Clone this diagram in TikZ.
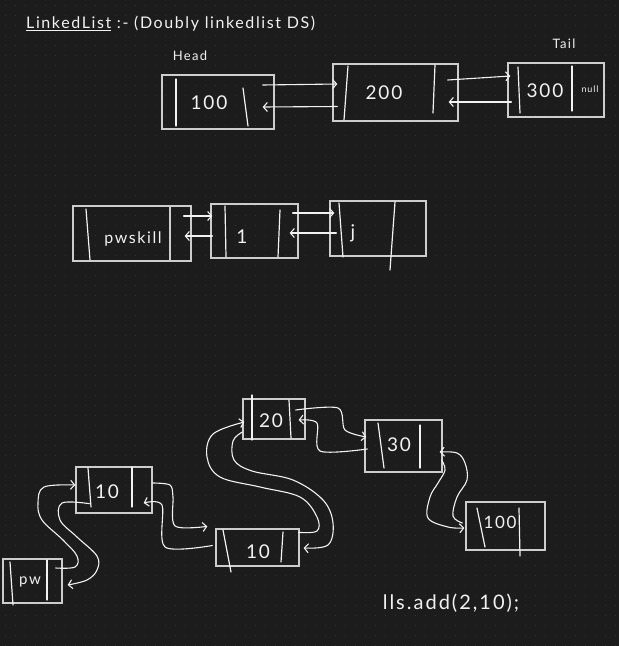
\documentclass[tikz,border=0pt]{standalone}
\usepackage{fontspec}
\setmainfont{Lato}
\newfontfamily\hand[LetterSpace=10]{Lato}
\usetikzlibrary{arrows.meta}
\definecolor{tavle}{HTML}{1C1C1C}
\definecolor{prikk}{HTML}{363636}
\definecolor{kritt}{HTML}{F2F2F2}
\definecolor{ramme}{HTML}{CDCDCD}
\tikzset{
    %Define standard arrow tip
    >={Straight Barb[length=4pt,width=9pt]},
    %Define style for list cells
    celle/.style={
           rectangle,
           draw=ramme, line width=1.3pt,
           inner sep=0pt},
    %Define style for cell dividers
    skille/.style={draw=kritt, line width=1.2pt, line cap=round},
    % Define pointer style
    peker/.style={
           ->,
           draw=kritt,
           line width=1.1pt,
           line cap=round,
           line join=round},
    % Define text style
    skrift/.style={text=kritt, inner sep=0pt, font=\hand\fontsize{19}{21}\selectfont},
    liten/.style={text=kritt, inner sep=0pt, font=\hand\fontsize{13}{14}\selectfont}
}

\begin{document}
\begin{tikzpicture}[x=1pt,y=-1pt]
      % board with dotted grid
      \fill[tavle] (0,0) rectangle (619,646);
      \useasboundingbox (0,0) rectangle (619,646);
      \foreach \y in {5,15,...,645}
        \draw[prikk, line width=1pt, dash pattern=on 1pt off 9pt] (4.5,\y) -- (619,\y);

      % heading
      \node[skrift, anchor=west, font=\hand\fontsize{16}{18}\selectfont] (tittel) at (26,24)
        {\underline{LinkedList} :- (Doubly linkedlist DS)};
      \node[liten] (hodetekst) at (190,56) {Head};
      \node[liten] (haletekst) at (564,44) {Tail};

      % first list
      \node[celle, minimum width=112pt, minimum height=54pt] (n100) at (218,102) {};
      \node[celle, minimum width=125pt, minimum height=57pt] (n200) at (395.5,92.5) {};
      \node[celle, minimum width=96pt, minimum height=54pt] (n300) at (556,90) {};
      \draw[skille] (176,79) -- (176,126);
      \draw[skille] (243,88) -- (248,126);
      \draw[skille] (348,66) -- (344,120);
      \draw[skille] (435,65) -- (433,113);
      \draw[skille] (518,67) -- (520,113);
      \draw[skille] (572,66) -- (572,111);
      \node[skrift] (t100) at (209,103) {100};
      \node[skrift] (t200) at (384,93) {200};
      \node[skrift] (t300) at (545,91) {300};
      \node[liten, font=\hand\fontsize{9}{10}\selectfont] (tnull) at (590,89) {null};

      \path[peker] ([shift={(-12,-17)}]n100.east) -- ([shift={(5,-8.5)}]n200.west);
      \path[peker] ([shift={(5,14)}]n200.west) -- ([shift={(-12,5)}]n100.east);
      \path[peker] ([shift={(-11,-12.5)}]n200.east) -- ([shift={(3,-14)}]n300.west);
      \path[peker] ([shift={(4,12)}]n300.west) -- ([shift={(-10,9.5)}]n200.east);

      % second list
      \node[celle, minimum width=118pt, minimum height=55pt] (npws) at (132,233.5) {};
      \node[celle, minimum width=87pt, minimum height=54pt] (n1) at (254.5,231) {};
      \node[celle, minimum width=96pt, minimum height=55pt] (nj) at (378,228.5) {};
      \draw[skille] (86,209) -- (90,260);
      \draw[ramme, line width=1.3pt] (170,206) -- (170,261);
      \draw[skille] (225,206) -- (226,257);
      \draw[skille] (280,210) -- (278,257);
      \draw[skille] (339,203) -- (343,257);
      \draw[skille] (395,202) -- (390,270);
      \node[skrift, font=\hand\fontsize{16}{18}\selectfont] (tpws) at (133,239) {pwskill};
      \node[skrift] (t1) at (242,237) {1};
      \node[skrift] (tj) at (353,233) {j};

      \path[peker] ([shift={(-8,-17.5)}]npws.east) -- ([shift={(2,-15)}]n1.west);
      \path[peker] ([shift={(2,5)}]n1.west) -- ([shift={(-7,2.5)}]npws.east);
      \path[peker] ([shift={(-6,-18)}]n1.east) -- ([shift={(5,-15.5)}]nj.west);
      \path[peker] ([shift={(7,4.5)}]nj.west) -- ([shift={(-9,2)}]n1.east);

      % third list, after add(2,10)
      \node[celle, minimum width=59pt, minimum height=44pt] (npw) at (32.5,581) {};
      \node[celle, minimum width=76pt, minimum height=46pt] (n10a) at (114,490) {};
      \node[celle, minimum width=83pt, minimum height=37pt] (n10b) at (257.5,547.5) {};
      \node[celle, minimum width=62pt, minimum height=40pt] (n20) at (274,419) {};
      \node[celle, minimum width=77pt, minimum height=52pt] (n30) at (403.5,446) {};
      \node[celle, minimum width=79pt, minimum height=48pt] (n100b) at (505.5,526) {};
      \draw[skille] (10,562) -- (13,605);
      \draw[skille] (47,560) -- (47,600);
      \draw[skille] (88,468) -- (91,507);
      \draw[skille] (132,467) -- (132,507);
      \draw[skille] (223,530) -- (231,572);
      \draw[skille] (283,532) -- (281,562);
      \draw[skille] (252,395) -- (252,440);
      \draw[skille] (289,400) -- (291,438);
      \draw[skille] (378,423) -- (384,468);
      \draw[skille] (420,425) -- (420,468);
      \draw[skille] (477,508) -- (485,547);
      \draw[skille] (519,508) -- (520,556);
      \node[skrift, font=\hand\fontsize{15}{17}\selectfont] (tpw) at (30,582) {pw};
      \node[skrift] (t10a) at (107,492) {10};
      \node[skrift] (t10b) at (258,552) {10};
      \node[skrift] (t20) at (271,421) {20};
      \node[skrift] (t30) at (399,445) {30};
      \node[skrift, font=\hand\fontsize{17}{19}\selectfont] (t100b) at (500,522) {100};
      \node[skrift, font=\hand\fontsize{20}{22}\selectfont] (kall) at (451,603) {lls.add(2,10);};

      \draw[peker] plot[smooth, tension=0.6] coordinates {([shift={(-7,-13)}]npw.east)
        (75,567) (77,556) (63,540) (42,520) (38,503) (44,487) ([shift={(0,-5)}]n10a.west)};
      \draw[peker] plot[smooth, tension=0.6] coordinates {([shift={(14,-10)}]n10a.south west)
        (62,503) (60,520) (77,537) (97,556) (97,570) (87,580) ([shift={(5,4)}]npw.east)};
      \draw[peker] plot[smooth, tension=0.5] coordinates {([shift={(0,-7)}]n10a.east)
        (170,485) (173,497) (175,526) ([shift={(-8,-2)}]n10b.north west)};
      \draw[peker] plot[smooth, tension=0.5] coordinates {([shift={(-3,-2)}]n10b.west)
        (165,547) (162,505) ([shift={(-9,13)}]n10a.east)};
      \draw[peker] plot[smooth, tension=0.6] coordinates {([shift={(-1,4)}]n10b.north east)
        (317,531) (317,517) (300,497) (260,487) (220,477) (207,457) (213,434) ([shift={(2,3)}]n20.west)};
      \draw[peker] plot[smooth, tension=0.6] coordinates {([shift={(0,13)}]n20.west)
        (233,441) (234,460) (252,471) (293,480) (323,500) (333,523) (328,545) ([shift={(4,0.5)}]n10b.east)};
      \draw[peker] plot[smooth, tension=0.5] coordinates {([shift={(-10,-9)}]n20.east)
        (338,408) (345,430) ([shift={(2,-9)}]n30.west)};
      \draw[peker] plot[smooth, tension=0.5] coordinates {([shift={(3,3)}]n30.west)
        (320,451) (317,423) ([shift={(-7,1)}]n20.east)};
      \draw[peker] plot[smooth, tension=0.6] coordinates {([shift={(-1,14)}]n30.east)
        (445,470) (438,483) (430,497) (428,518) (448,527) ([shift={(-1,2)}]n100b.west)};
      \draw[peker] plot[smooth, tension=0.6] coordinates {([shift={(-3,-3)}]n100b.west)
        (453,516) (457,497) (467,480) (465,463) (457,453) ([shift={(-3,6)}]n30.east)};
  \end{tikzpicture}
\end{document}
